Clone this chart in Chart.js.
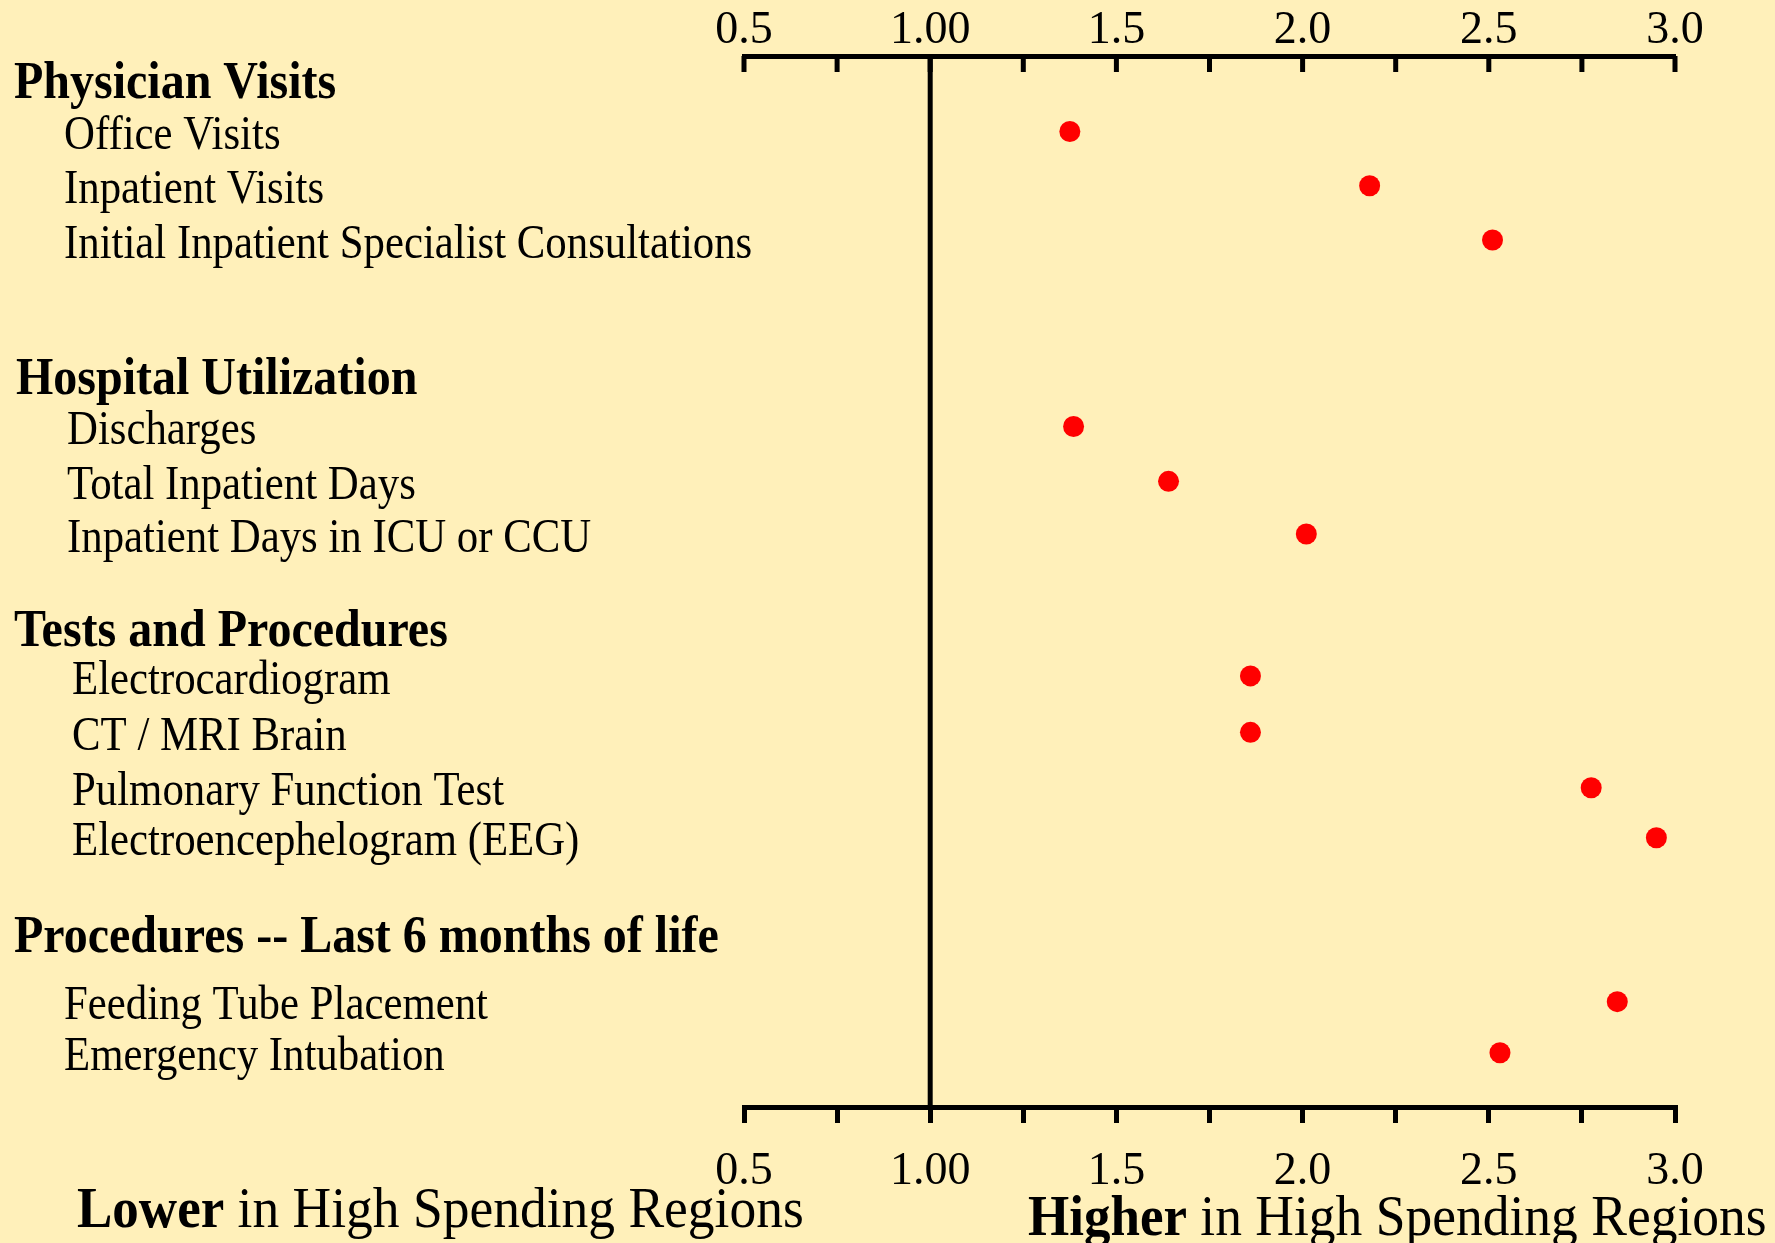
<!DOCTYPE html>
<html>
<head>
<meta charset="utf-8">
<script src="https://cdn.jsdelivr.net/npm/chart.js@4.4.1/dist/chart.umd.min.js"></script>
<style>
  html, body { margin: 0; padding: 0; background: #FFF0BA; }
  #wrap { width: 1775px; height: 1243px; position: relative; }
</style>
</head>
<body>
<div id="wrap"><canvas id="ratioChart"></canvas></div>
<script>
// values
const itemLabels = [
  'Office Visits', 'Inpatient Visits', 'Initial Inpatient Specialist Consultations',
  'Discharges', 'Total Inpatient Days', 'Inpatient Days in ICU or CCU',
  'Electrocardiogram', 'CT / MRI Brain', 'Pulmonary Function Test', 'Electroencephelogram (EEG)',
  'Feeding Tube Placement', 'Emergency Intubation'
];
const itemValues = [1.375, 2.18, 2.51, 1.385, 1.64, 2.01, 1.86, 1.86, 2.775, 2.95, 2.845, 2.53];
const itemRows = [1, 2.01, 3.02, 6.49, 7.51, 8.49, 11.13, 12.18, 13.21, 14.14, 17.19, 18.14];
const itemGroup = [0, 0, 0, 1, 1, 1, 2, 2, 2, 2, 3, 3];

const groupLabels = ['Physician Visits', 'Hospital Utilization', 'Tests and Procedures', 'Procedures -- Last 6 months of life'];
const groupRows = [0.07, 5.57, 10.26, 15.95];

const referenceValue = 1.0;
const footLeft = ['Lower', ' in High Spending Regions'];
const footRight = ['Higher', ' in High Spending Regions'];

const SERIF = '"Liberation Serif", "Times New Roman", serif';
const groupIndent = [64, 67, 72, 64];
const groupX = [14, 16, 14, 14];

function tickText(v) {
  if (Math.abs(v - 1) < 1e-9) return '1.00';
  if (Math.abs(v * 2 - Math.round(v * 2)) < 1e-9) return v.toFixed(1);
  return '';
}

// text in the original is a little taller than the plain font
function tallText(ctx, text, x, y, k) {
  ctx.save();
  ctx.translate(x, y);
  ctx.scale(1, k);
  ctx.fillText(text, 0, 0);
  ctx.restore();
}

const background = {
  id: 'background',
  beforeDraw(chart) {
    const ctx = chart.ctx;
    ctx.save();
    ctx.fillStyle = '#FFF0BA';
    ctx.fillRect(0, 0, chart.width, chart.height);
    ctx.restore();
  }
};

const decorations = {
  id: 'decorations',
  beforeDatasetsDraw(chart) {
    const ctx = chart.ctx;
    const x = chart.scales.x;
    const area = chart.chartArea;
    ctx.save();
    ctx.strokeStyle = '#000';
    // reference line at 1.00
    ctx.lineWidth = 5;
    const rx = x.getPixelForValue(referenceValue);
    ctx.beginPath();
    ctx.moveTo(rx, area.top);
    ctx.lineTo(rx, area.bottom);
    ctx.stroke();
    // top axis ticks hang down into the plot
    x.ticks.forEach(t => {
      const px = x.getPixelForValue(t.value);
      ctx.beginPath();
      ctx.moveTo(px, area.top);
      ctx.lineTo(px, area.top + 16);
      ctx.stroke();
    });
    ctx.restore();
  },
  afterDraw(chart) {
    const ctx = chart.ctx;
    const y = chart.scales.y;
    ctx.save();
    ctx.fillStyle = '#000';
    ctx.textBaseline = 'middle';
    ctx.textAlign = 'left';

    ctx.font = 'bold 48px ' + SERIF;
    groupLabels.forEach((g, i) => {
      tallText(ctx, g, groupX[i], y.getPixelForValue(groupRows[i]) + 3, 1.12);
    });

    ctx.font = '42.8px ' + SERIF;
    itemLabels.forEach((lab, i) => {
      tallText(ctx, lab, groupIndent[itemGroup[i]], y.getPixelForValue(itemRows[i]) + 5, 1.12);
    });

    // footer captions
    ctx.textBaseline = 'alphabetic';
    const drawFoot = (parts, x0, base) => {
      ctx.font = 'bold 53px ' + SERIF;
      tallText(ctx, parts[0], x0, base, 1.06);
      const w = ctx.measureText(parts[0]).width;
      ctx.font = '53.5px ' + SERIF;
      tallText(ctx, parts[1], x0 + w, base, 1.06);
    };
    drawFoot(footLeft, 77, 1227);
    drawFoot(footRight, 1028, 1235);
    ctx.restore();
  }
};

const axisCommon = {
  type: 'linear',
  min: 0.5,
  max: 3.0,
  ticks: {
    stepSize: 0.25,
    autoSkip: false,
    maxRotation: 0,
    color: '#000',
    font: { family: SERIF, size: 46 },
    callback: v => tickText(v)
  },
  border: { display: true, color: '#000', width: 5 }
};

new Chart(document.getElementById('ratioChart'), {
  type: 'scatter',
  data: {
    datasets: [{
      data: itemValues.map((v, i) => ({ x: v, y: itemRows[i] })),
      backgroundColor: '#FF0000',
      borderColor: '#FF0000',
      pointRadius: 10.5,
      pointHoverRadius: 10.5,
      borderWidth: 0
    }]
  },
  options: {
    responsive: true,
    maintainAspectRatio: false,
    animation: false,
    layout: { padding: { left: 744, right: 100, top: 0, bottom: 0 } },
    plugins: { legend: { display: false }, tooltip: { enabled: false } },
    scales: {
      x: Object.assign({}, axisCommon, {
        position: 'top',
        grid: { display: false, drawTicks: false, drawOnChartArea: false },
        ticks: Object.assign({}, axisCommon.ticks, { padding: -3 }),
        afterFit(scale) { scale.height = 56; }
      }),
      x2: Object.assign({}, axisCommon, {
        position: 'bottom',
        grid: { display: true, drawOnChartArea: false, drawTicks: true, tickLength: 16, lineWidth: 5, color: '#000' },
        ticks: Object.assign({}, axisCommon.ticks, { padding: 21 }),
        afterFit(scale) { scale.height = 136; }
      }),
      y: {
        type: 'linear',
        reverse: true,
        min: -0.404,
        max: 19.15,
        display: false
      }
    }
  },
  plugins: [background, decorations]
});
</script>
</body>
</html>
